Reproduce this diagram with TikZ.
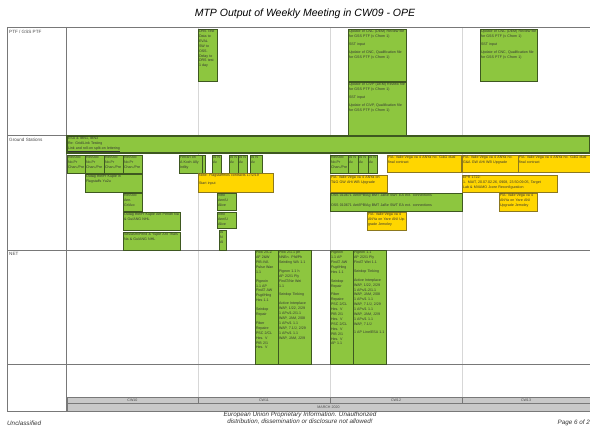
\documentclass[tikz,border=0pt]{standalone}
\usepackage{fontspec}
\setmainfont{Liberation Sans}
\definecolor{gfill}{RGB}{141,198,63}
\definecolor{gline}{RGB}{62,88,32}
\definecolor{yfill}{RGB}{255,214,0}
\definecolor{yline}{RGB}{140,120,30}
\definecolor{gridd}{RGB}{120,120,120}
\definecolor{gridl}{RGB}{215,215,215}
\definecolor{barg}{RGB}{200,200,200}
\tikzset{
 gbox/.style={draw=gline, fill=gfill, line width=0.7pt, inner sep=0pt, outer sep=0pt},
 ybox/.style={draw=yline, fill=yfill, line width=0.7pt, inner sep=0pt, outer sep=0pt},
 btxt/.style={inner sep=0.8pt, font=\fontsize{3.6}{4.9}\selectfont, text=black!80, align=left},
 rowlbl/.style={anchor=north west, inner sep=0pt, font=\fontsize{4.6}{5.5}\selectfont, text=black!70},
 wkcell/.style={draw=gridd, fill=barg, line width=0.6pt, inner sep=0pt, outer sep=0pt, font=\fontsize{3.6}{4}\selectfont, text=black!70},
 foot/.style={inner sep=0pt, font=\fontsize{6.3}{7}\selectfont\itshape, text=black!80},
}
\newcommand{\bx}[7]{%
 \pgfmathsetmacro{\bxw}{#5-#3}\pgfmathsetmacro{\bxh}{#6-#4}\pgfmathsetmacro{\bxt}{max(#5-#3-1.6,2)}%
 \node[#2, anchor=north west, minimum width=\bxw pt, minimum height=\bxh pt] (#1) at (#3,#4) {};%
 \node[btxt, anchor=north west, text width=\bxt pt] (#1t) at (#1.north west) {#7};%
}
\begin{document}
\begin{tikzpicture}[x=1pt,y=-1pt]
\useasboundingbox (0,0) rectangle (590,427);
% title
\node[inner sep=0pt, font=\fontsize{10.5}{12}\selectfont\itshape] (title) at (305,14) {MTP Output of Weekly Meeting in CW09 - OPE};
% week grid lines
\draw[gridl, line width=0.6pt] (198,27) -- (198,397) (330,27) -- (330,397) (462,27) -- (462,397);
% row lines
\draw[gridd, line width=0.6pt] (7,27) -- (590,27) (7,27) -- (7,411) (66,27) -- (66,411)
  (7,135) -- (590,135) (7,250) -- (590,250) (7,364) -- (590,364) (7,411) -- (590,411);
% row labels
\node[rowlbl] (lptf) at (9,29.5) {PTF / GSS PTF};
\node[rowlbl] (lgs) at (9,137.5) {Ground Stations};
\node[rowlbl] (lnet) at (9,252.5) {NET};
% ---- PTF row
\bx{p1}{gbox}{198}{29}{217}{81}{DRS Test\\ Data to\\ EVAL\\ SW to\\ OSS.\\ Delay to\\ DRS test\\ 1 day}
\bx{p2}{gbox}{348}{29}{406}{81}{Update of CNC (DEM) Review file for GSS PTF (v Cfrom 1)\\[3pt] SST input\\[3pt] Update of CNC, Qualification file for GSS PTF (v Cfrom 1)}
\bx{p3}{gbox}{348}{82}{406}{135}{Update of CIVP (DEM) Review file for GSS PTF (v Cfrom 1)\\[3pt] SST input\\[3pt] Update of CIVP, Qualification file for GSS PTF (v Cfrom 1)}
\bx{p4}{gbox}{480}{29}{537}{81}{Update of CNC (DEM) Review file for GSS PTF (v Cfrom 1)\\[3pt] SST input\\[3pt] Update of CNC, Qualification file for GSS PTF (v Cfrom 1)}
% ---- Ground stations row
\bx{g0}{gbox, line width=1.3pt}{67}{136}{590}{153}{ESA \& IBN1, IBN3\\ Re: Grid/Link Testing\\ \underline{Link and roll-on split-on lettering}}
\bx{g1}{gbox}{67}{155}{85}{173}{Ref/Doc No.Pr Chan./Pre}
\bx{g2}{gbox}{85}{155}{104}{173}{Ref/Doc No.Pr Chan./Pre}
\bx{g3}{gbox}{104}{155}{123}{173}{Ref/Doc No.Pr Chan./Pre}
\bx{g4}{gbox}{123}{155}{142}{173}{Ref/Doc No.Pr Chan./Pre}
\bx{g5}{gbox}{179}{155}{202}{173}{Ferrari on A Kxxh Ally Intlity}
\bx{g6}{gbox}{202}{155}{205}{173}{}
\bx{g7}{gbox}{212}{155}{221}{173}{Al N Ac}
\bx{g8}{gbox}{229}{155}{238}{173}{Al N Ac}
\bx{g9}{gbox}{238}{155}{247}{173}{Al N Ac}
\bx{g10}{gbox}{250}{155}{262}{173}{Al N Ac}
\bx{g11}{gbox}{330}{155}{348}{173}{Ref/Doc No.Pr Chan./Pre}
\bx{g12}{gbox}{348}{155}{358}{173}{Al N Ac}
\bx{g13}{gbox}{358}{155}{368}{173}{Al N Ac}
\bx{g14}{gbox}{368}{155}{377}{173}{Al N Ac}
\bx{y1}{ybox}{387}{155}{461}{172}{F/A: Vaile Vega va 4 ANYa no. G\&G dual final contract}
\bx{y2}{ybox}{462}{155}{518}{172}{F/A: Vaile Vega va 4 ANYa no. G\&A GW AHi WB Upgrade}
\bx{y3}{ybox}{518}{155}{590}{172}{F/A: Vaile Vega va 4 ANYa no. G\&G dual final contract}
\bx{g15}{gbox}{85}{174}{142}{192}{Outag the/Fr Kuple in\\ Flagstaffs Yu2u}
\bx{y4}{ybox}{198}{173}{273}{192}{Note: Flagstaffmos contracts 17/2/19\\[3pt] Start input}
\bx{y5}{ybox}{330}{175}{387}{192}{F/A: Vaile Vega va 4 ANYa on T\&G GW AHi WB Upgrade}
\bx{y6}{ybox}{462}{175}{557}{192}{EPR 1722:\\ 1. MAIT, 20.07.02.26, 0908, 23.50.09.05, Target\\ Lab \& MVAMO Jcore Reconfiguration}
\bx{g16}{gbox}{123}{193}{142}{211}{Ref/Doc Ann. Gr/Acc}
\bx{g17}{gbox}{217}{193}{236}{210}{Intro Ann/U Alive}
\bx{g18}{gbox}{330}{193}{462}{211}{OSS 010671 Ant/IPB/Ag BMT JaBe SWT EA ext. connections\\[5pt] OSS 010671 Ant/IPB/Ag BMT JaBe SWT EA ext. connections}
\bx{y7}{ybox}{499}{193}{537}{211}{F/A: Vaile Vega va 4 ANYa on Yare ANI Upgrade Jemoley}
\bx{g19}{gbox}{123}{212}{180}{230}{Outag the/Fr Kuple Ant Pendh Na \& Gu/ANG NHL}
\bx{g20}{gbox}{217}{212}{236}{228}{Intro Ann/U Alive}
\bx{y8}{ybox}{367}{212}{406}{230}{F/A: Vaile Vega va 4 ANYa on Yare ANI Upgrade Jemoley}
\bx{g21}{gbox}{123}{232}{180}{250}{Ses/asm/Pend \& Yuple Ant Thals Na \& Gu/ANG NHL}
\bx{g22}{gbox}{219}{230}{226}{250}{Ai N Al}
% ---- NET row
\bx{n1}{gbox}{255}{250}{278}{364}{Pow 2/CZ\\ AF 2\&W\\ PIB-IVA\\ Pulse Wan\\ 1.1\\[4pt] Pigeoin\\ 1.1 AP\\ FinAT AW\\ Fsgt/Hing\\ Hes 1.1\\[4pt] Seirdop\\ Repair\\[4pt] Fiber\\ Repaire\\ PSC 2/CL\\ Hes. V\\ PIB 2/1\\ Hes. V}
\bx{n2}{gbox}{278}{250}{311}{364}{Pow 2/1.1 ph\\ NNEn. Pfd/Ph\\ Seirding WA 1.1\\[4pt] Pigeon 1.1 h\\ AP 2/2/1 Ply\\ FinAT/Ne Wei\\ 1.1\\[4pt] Seirdop Tinking\\[4pt] Active Interplace\\ WAP, 1/22, 2/29\\ 1 APs/1-2/1.1\\ WAP, JAM, 2/08\\ 1 APs/1 1.1\\ WAP, 7.1/J, 2/29\\ 1 APs/1 1.1\\ WAP, JAM, J2/9}
\bx{n3}{gbox}{330}{250}{353}{364}{Pigeoin\\ 1.1 AP\\ FinAT AW\\ Fsgt/Hing\\ Hes 1.1\\[4pt] Seirdop\\ Repair\\[4pt] Fiber\\ Repaire\\ PSC 2/CL\\ Hes. V\\ PIB 2/1\\ Hes. V\\ PSC 2/CL\\ Hes. V\\ PIB 2/1\\ Hes. V\\ AP 1.1}
\bx{n4}{gbox}{353}{250}{386}{364}{Pigeon 1.1\\ AP 2/2/1 Ply\\ FinAT Wei 1.1\\[4pt] Seirdop Tinking\\[4pt] Active Interplace\\ WAP, 1/22, 2/29\\ 1 APs/1-2/1.1\\ WAP, JAM, 2/08\\ 1 APs/1 1.1\\ WAP, 7.1/J, 2/29\\ 1 APs/1 1.1\\ WAP, JAM, J2/9\\ 1 APs/1 1.1\\ WAP, 7.1/J\\[3pt] 1 AP Line/ESA 1.1}
% ---- time axis
\node[wkcell, minimum width=131pt, minimum height=6pt] (cw10) at (132.5,400) {CW10};
\node[wkcell, minimum width=132pt, minimum height=6pt] (cw11) at (264,400) {CW11};
\node[wkcell, minimum width=132pt, minimum height=6pt] (cw12) at (396,400) {CW12};
\node[wkcell, minimum width=128pt, minimum height=6pt] (cw13) at (526,400) {CW13};
\node[wkcell, minimum width=523pt, minimum height=8pt] (month) at (328.5,407) {MARCH 2020};
% footer
\node[foot, anchor=west] (uncl) at (7,423) {Unclassified};
\node[foot, align=center] (eu) at (300,418.5) {European Union Proprietary Information. Unauthorized\\ distribution, dissemination or disclosure not allowed!};
\node[foot, anchor=east] (pg) at (590,423) {Page 6 of 2};
\end{tikzpicture}
\end{document}
